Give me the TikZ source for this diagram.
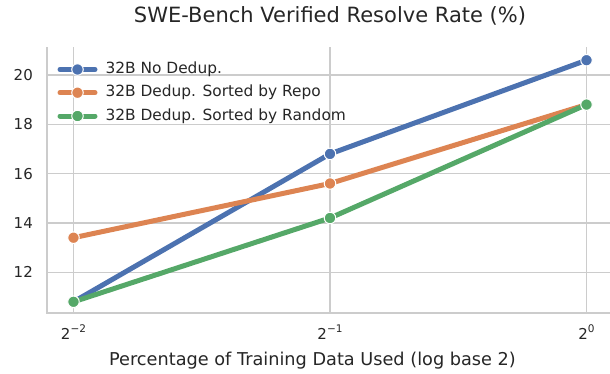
\documentclass[tikz,border=0pt]{standalone}
\usepackage{fontspec}
\setmainfont{DejaVu Sans}
\definecolor{sbblue}{HTML}{4C72B0}
\definecolor{sborange}{HTML}{DD8452}
\definecolor{sbgreen}{HTML}{55A868}
\definecolor{gridc}{HTML}{CCCCCC}
\definecolor{txt}{HTML}{262626}
\newcommand{\twopow}[1]{2\raisebox{6.5pt}{\fontsize{10.5}{12}\selectfont #1}}
\begin{document}
\begin{tikzpicture}[x=1pt,y=-1pt,
  gridline/.style={draw=gridc,line width=1.2pt},
  series/.style={line width=5pt,line join=round},
  mk/.style={circle,draw=white,line width=1pt,minimum size=11.5pt,inner sep=0pt},
  ticklab/.style={text=txt,font=\fontsize{15}{18}\selectfont,inner sep=0pt},
  leglab/.style={text=txt,font=\fontsize{15.4}{18}\selectfont,anchor=west}]
\useasboundingbox (0,0) rectangle (610,373);
% grid
\foreach \yy in {75,124.3,173.6,222.9,272.2} \draw[gridline] (47,\yy) -- (610,\yy);
\foreach \xx in {73.5,330,586.5} \draw[gridline] (\xx,47) -- (\xx,313);
% spines
\draw[gridline,line width=1.4pt] (47,47) -- (47,313) -- (610,313);
% y tick labels
\node[ticklab,anchor=east] (y12) at (33,272.2) {12};
\node[ticklab,anchor=east] (y14) at (33,222.9) {14};
\node[ticklab,anchor=east] (y16) at (33,173.6) {16};
\node[ticklab,anchor=east] (y18) at (33,124.3) {18};
\node[ticklab,anchor=east] (y20) at (33,75) {20};
% x tick labels
\node[ticklab,anchor=base] (xm2) at (73.5,339) {\twopow{−2}};
\node[ticklab,anchor=base] (xm1) at (330,339) {\twopow{−1}};
\node[ticklab,anchor=base] (x0) at (586.5,339) {\twopow{0}};
% labels
\node[text=txt,font=\fontsize{17.7}{21}\selectfont] (xlab) at (312.5,361) {Percentage of Training Data Used (log base 2)};
\node[text=txt,font=\fontsize{21}{25}\selectfont] (title) at (330,16) {SWE-Bench Verified Resolve Rate (\%)};
% data points
\coordinate (b1) at (73.5,301.8);
\coordinate (b2) at (330,153.9);
\coordinate (b3) at (586.5,60.2);
\coordinate (o1) at (73.5,237.7);
\coordinate (o2) at (330,183.5);
\coordinate (o3) at (586.5,104.6);
\coordinate (g1) at (73.5,301.8);
\coordinate (g2) at (330,218);
\coordinate (g3) at (586.5,104.6);
\draw[series,sbblue] (b1) -- (b2) -- (b3);
\foreach \p in {b1,b2,b3} \node[mk,fill=sbblue] at (\p) {};
\draw[series,sborange] (o1) -- (o2) -- (o3);
\foreach \p in {o1,o2,o3} \node[mk,fill=sborange] at (\p) {};
\draw[series,sbgreen] (g1) -- (g2) -- (g3);
\foreach \p in {g1,g2,g3} \node[mk,fill=sbgreen] at (\p) {};
% legend
\coordinate (la1) at (60,69.5); \coordinate (lb1) at (95,69.5);
\coordinate (la2) at (60,92.7); \coordinate (lb2) at (95,92.7);
\coordinate (la3) at (60,116); \coordinate (lb3) at (95,116);
\draw[series,sbblue,line cap=round] (la1) -- (lb1);
\node[mk,fill=sbblue] (lm1) at (77.5,69.5) {};
\draw[series,sborange,line cap=round] (la2) -- (lb2);
\node[mk,fill=sborange] (lm2) at (77.5,92.7) {};
\draw[series,sbgreen,line cap=round] (la3) -- (lb3);
\node[mk,fill=sbgreen] (lm3) at (77.5,116) {};
\node[leglab] (l1) at (102,69.5) {32B No Dedup.};
\node[leglab] (l2) at (102,92.7) {32B Dedup. Sorted by Repo};
\node[leglab] (l3) at (102,116) {32B Dedup. Sorted by Random};
\end{tikzpicture}
\end{document}
